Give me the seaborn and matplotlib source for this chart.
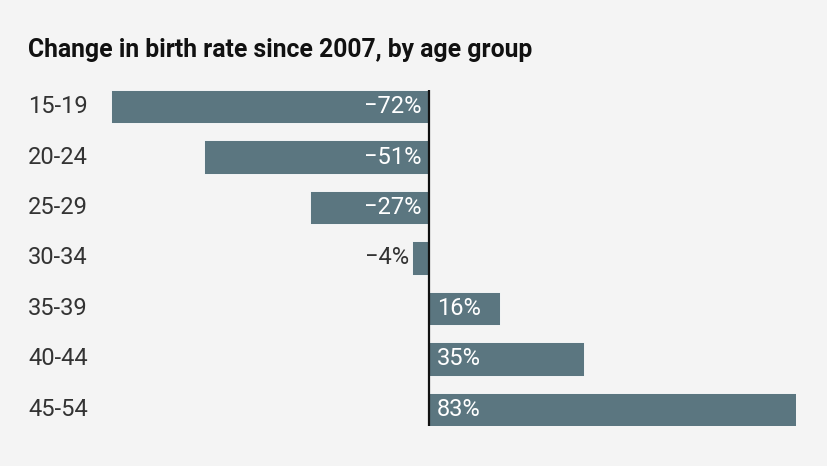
import matplotlib
matplotlib.use("Agg")
import matplotlib.pyplot as plt
import matplotlib.transforms as mtransforms
import seaborn as sns
import pandas as pd

groups = ["15-19", "20-24", "25-29", "30-34", "35-39", "40-44", "45-54"]
changes = [-72, -51, -27, -4, 16, 35, 83]
labels = ["\u221272%", "\u221251%", "\u221227%", "\u22124%", "16%", "35%", "83%"]
title = "Change in birth rate since 2007, by age group"

BG = "#f4f4f4"
BAR = "#5b7680"
sns.set_theme(style="white")
plt.rcParams["font.family"] = ["Roboto", "DejaVu Sans"]

fig = plt.figure(figsize=(8.28, 4.66), dpi=100, facecolor=BG)
ax = fig.add_axes([111 / 828, 40 / 466, 685 / 828, 336 / 466])
ax.set_facecolor(BG)

df = pd.DataFrame({"group": groups, "change": changes})
sns.barplot(data=df, x="change", y="group", orient="h", color=BAR,
            saturation=1, width=0.66, linewidth=0.6, edgecolor="#ffffff", ax=ax)
ax.set_xlim(-72, 83)
ax.set_ylim(len(groups) - 1 + 0.33, -0.33)
for s in ax.spines.values():
    s.set_visible(False)
ax.set_xticks([])
ax.set_yticks([])
ax.set_xlabel("")
ax.set_ylabel("")
ax.axvline(0, color="#111111", lw=1.6, zorder=5)

FS = 17
trans = mtransforms.blended_transform_factory(fig.transFigure, ax.transData)
for i, (g, v, lab) in enumerate(zip(groups, changes, labels)):
    ax.text(28 / 828, i, g, transform=trans, ha="left", va="center",
            fontsize=FS, color="#333333")
    if v < -10:
        ax.text(-1.8, i, lab, ha="right", va="center", fontsize=FS,
                color="white", zorder=6)
    elif v < 0:
        ax.text(v - 0.6, i, lab, ha="right", va="center", fontsize=FS,
                color="#333333", zorder=6)
    else:
        ax.text(1.8, i, lab, ha="left", va="center", fontsize=FS,
                color="white", zorder=6)

fig.text(28 / 828, 1 - 50 / 466, title, ha="left", va="center",
         fontsize=17.8, fontweight="bold", color="#111111")

fig.savefig("out.png", dpi=100, facecolor=BG)
